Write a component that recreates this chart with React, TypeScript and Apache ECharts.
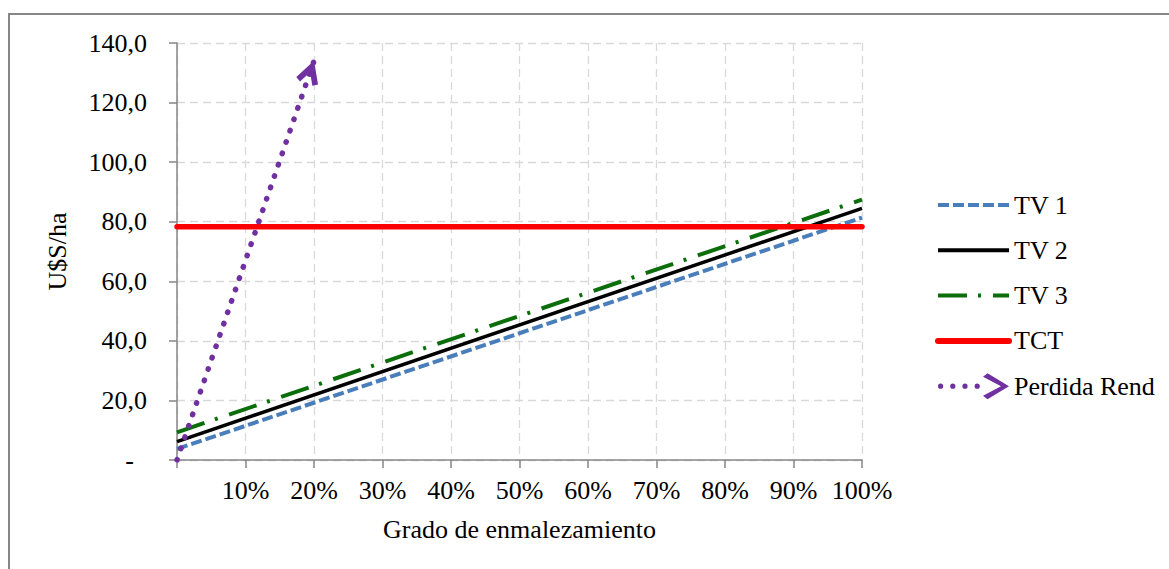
import React, { useEffect, useRef } from "react";
import * as echarts from "echarts";

// Data
const seriesNames = ["TV 1", "TV 2", "TV 3", "TCT", "Perdida Rend"];
const xTicks = [0, 10, 20, 30, 40, 50, 60, 70, 80, 90, 100]; // grado de enmalezamiento (%)
const tv1 = [[0, 3.7], [100, 81.4]];
const tv2 = [[0, 6.2], [100, 84.5]];
const tv3 = [[0, 9.3], [100, 87.4]];
const tct = [[0, 78.3], [100, 78.3]];
const perdida = [[0, 0], [20, 134]];

const FONT = "'Liberation Serif', 'Times New Roman', serif";
const FS = 26;

const chevronUp =
  "path://M11 -24 L11.01 -24 L11 -23.99 Z M11 0 L22.5 21 L17.5 24 L11 12 L4.5 24 L-0.5 21 Z";

const legendArrowIcon =
  "path://M0 13a2.6 2.6 0 1 0 5.2 0a2.6 2.6 0 1 0 -5.2 0Z" +
  " M12.2 13a2.6 2.6 0 1 0 5.2 0a2.6 2.6 0 1 0 -5.2 0Z" +
  " M24.4 13a2.6 2.6 0 1 0 5.2 0a2.6 2.6 0 1 0 -5.2 0Z" +
  " M36.6 13a2.6 2.6 0 1 0 5.2 0a2.6 2.6 0 1 0 -5.2 0Z" +
  " M45 3.5 L49.5 0 L71 13 L49.5 26 L45 22.5 L63 13 Z";

export default function App() {
  const ref = useRef<HTMLDivElement>(null);

  useEffect(() => {
    if (!ref.current) return;
    const chart = echarts.init(ref.current, null, { renderer: "svg" });
    const hideSym = { opacity: 0 };
    const option: any = {
      animation: false,
      backgroundColor: "#ffffff",
      textStyle: { fontFamily: FONT },
      graphic: [
        {
          type: "rect",
          shape: { x: 9, y: 14, width: 1175, height: 580 },
          style: { fill: "none", stroke: "#868686", lineWidth: 2 },
          silent: true,
          z: 100,
        },
      ],
      grid: { left: 177, right: 307, top: 43, bottom: 109, containLabel: false },
      legend: {
        orient: "vertical",
        left: 935,
        top: 192,
        padding: 0,
        itemWidth: 71,
        itemHeight: 26,
        itemGap: 19.3,
        textStyle: { fontFamily: FONT, fontSize: FS, color: "#000" },
        data: [
          { name: seriesNames[0], itemStyle: hideSym, lineStyle: { width: 4 } },
          { name: seriesNames[1], itemStyle: hideSym, lineStyle: { width: 4 } },
          { name: seriesNames[2], itemStyle: hideSym, lineStyle: { width: 4 } },
          { name: seriesNames[3], itemStyle: hideSym, lineStyle: { width: 6, cap: "round" } },
          { name: seriesNames[4], icon: legendArrowIcon },
        ],
        selectedMode: false,
      },
      xAxis: {
        type: "value",
        min: xTicks[0],
        max: xTicks[xTicks.length - 1],
        interval: 10,
        name: "Grado de enmalezamiento",
        nameLocation: "middle",
        nameGap: 56,
        nameTextStyle: { fontFamily: FONT, fontSize: FS, color: "#000" },
        axisLine: { show: true, lineStyle: { color: "#868686", width: 1.5 } },
        axisTick: { show: true, length: 8, lineStyle: { color: "#868686", width: 1.5 } },
        axisLabel: {
          fontFamily: FONT,
          fontSize: FS,
          color: "#000",
          margin: 17,
          formatter: (v: number) => (v === 0 ? "" : v + "%"),
        },
        splitLine: { show: true, lineStyle: { color: "#d9d9d9", width: 1.3, type: [8, 5] } },
      },
      yAxis: {
        type: "value",
        min: 0,
        max: 140,
        interval: 20,
        name: "U$S/ha",
        nameLocation: "middle",
        nameGap: 107,
        nameTextStyle: { fontFamily: FONT, fontSize: FS, color: "#000" },
        axisLine: { show: true, lineStyle: { color: "#868686", width: 1.5 } },
        axisTick: { show: true, length: 8, lineStyle: { color: "#868686", width: 1.5 } },
        axisLabel: {
          fontFamily: FONT,
          fontSize: FS,
          color: "#000",
          margin: 30,
          formatter: (v: number) => (v === 0 ? "{d|-}" : v.toFixed(1).replace(".", ",")),
          rich: { d: { fontFamily: FONT, fontSize: FS, color: "#000", padding: [0, 13, 0, 0] } },
        },
        splitLine: { show: true, lineStyle: { color: "#d9d9d9", width: 1.3, type: [8, 5] } },
      },
      series: [
        {
          name: seriesNames[0],
          type: "line",
          data: tv1,
          symbol: "none",
          lineStyle: { color: "#4a7ebb", width: 4, type: [11, 4] },
          itemStyle: { color: "#4a7ebb" },
        },
        {
          name: seriesNames[1],
          type: "line",
          data: tv2,
          symbol: "none",
          lineStyle: { color: "#000000", width: 3.5 },
          itemStyle: { color: "#000000" },
        },
        {
          name: seriesNames[2],
          type: "line",
          data: tv3,
          symbol: "none",
          lineStyle: { color: "#0b6e0b", width: 4, type: [29, 11, 3, 12] },
          itemStyle: { color: "#0b6e0b" },
        },
        {
          name: seriesNames[3],
          type: "line",
          data: tct,
          symbol: "none",
          lineStyle: { color: "#ff0000", width: 5.5, cap: "round" },
          itemStyle: { color: "#ff0000" },
        },
        {
          name: seriesNames[4],
          type: "line",
          data: perdida,
          symbol: "none",
          lineStyle: { color: "#7030a0", width: 5.5, type: [0.5, 11.5], cap: "round" },
          itemStyle: { color: "#7030a0" },
          markLine: {
            silent: true,
            symbol: ["none", chevronUp],
            symbolSize: [23, 48],
            label: { show: false },
            lineStyle: { color: "#7030a0", width: 0, type: "solid" },
            data: [[{ coord: perdida[0] }, { coord: perdida[perdida.length - 1] }]],
          },
        },
      ],
    };
    chart.setOption(option);
    return () => chart.dispose();
  }, []);

  return (
    <div
      ref={ref}
      style={{ position: "fixed", left: 0, top: 0, width: 1169, height: 569, background: "#fff" }}
    />
  );
}
